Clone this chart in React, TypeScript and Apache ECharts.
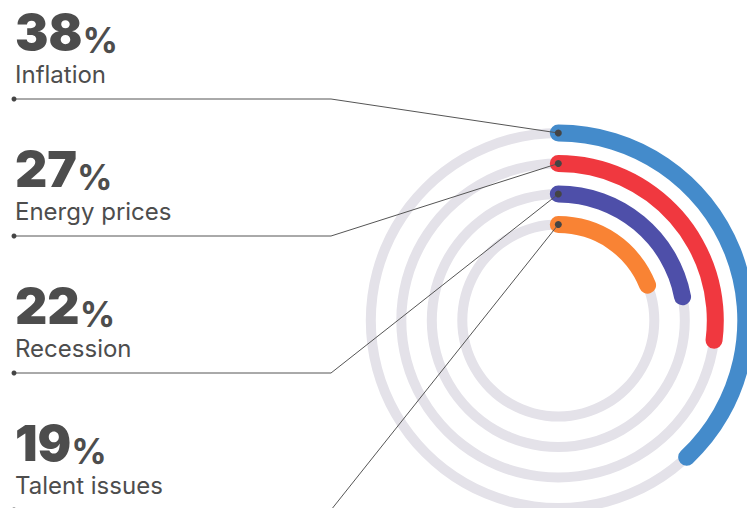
import React, { useEffect, useRef } from "react";
import * as echarts from "echarts";

// ---- data ----
const categories: string[] = ["Inflation", "Energy prices", "Recession", "Talent issues"];
const values: number[] = [38, 27, 22, 19];

// ---- styles / layout ----
const colors: string[] = ["#448bcb", "#f0383f", "#4e4fa9", "#f98334"];
const TRACK = "#e4e2e9";
const TEXT = "#4d4d4d";
const CX = 558.3;
const CY = 320.5;
const RADII: number[] = [187.5, 157, 126.5, 96]; // ring centre-line radii, outer -> inner
const BAR_W = 17;
const TRACK_W = 10;
const NUM_TOP = 13;
const LABEL_MID = 74.5;
const GROUP_STEP = 137;
const LINE_Y0 = 99;
const BEND_X = 331;

export default function App() {
  const ref = useRef<HTMLDivElement>(null);

  useEffect(() => {
    if (!ref.current) return;
    const chart = echarts.init(ref.current, undefined, { renderer: "svg" });

    const hidden = {
      pointer: { show: false },
      axisTick: { show: false },
      splitLine: { show: false },
      axisLabel: { show: false },
      title: { show: false },
      detail: { show: false },
      anchor: { show: false },
    };

    const series: any[] = [];
    categories.forEach((name, i) => {
      const r = RADII[i];
      series.push({
        type: "gauge",
        silent: true,
        z: 1,
        center: [CX, CY],
        radius: r + TRACK_W / 2,
        startAngle: 90,
        endAngle: -270,
        min: 0,
        max: 100,
        ...hidden,
        axisLine: { show: true, roundCap: false, lineStyle: { width: TRACK_W, color: [[1, TRACK]] } },
        progress: { show: false },
        data: [{ value: 0, name }],
      });
    });
    categories.forEach((name, i) => {
      const r = RADII[i];
      series.push({
        type: "gauge",
        silent: true,
        z: 3,
        center: [CX, CY],
        radius: r + BAR_W / 2,
        startAngle: 90,
        endAngle: -270,
        min: 0,
        max: 100,
        ...hidden,
        axisLine: { show: false },
        progress: { show: true, width: BAR_W, roundCap: true, itemStyle: { color: colors[i] } },
        data: [{ value: values[i], name }],
      });
    });

    const graphics: any[] = [];
    categories.forEach((name, i) => {
      const off = i * GROUP_STEP;
      const ly = LINE_Y0 + off;
      const endY = CY - RADII[i];
      graphics.push({
        type: "text",
        x: 15,
        y: NUM_TOP + off,
        z: 100,
        style: {
          text: `{n|${values[i]}}{p|%}`,
          verticalAlign: "top",
          align: "left",
          rich: {
            n: {
              fontFamily: "Inter",
              fontWeight: 900,
              fontSize: 50,
              lineHeight: 44,
              verticalAlign: "bottom",
              fill: TEXT,
            },
            p: {
              fontFamily: "Inter",
              fontWeight: 700,
              fontSize: 35,
              lineHeight: 34,
              verticalAlign: "bottom",
              fill: TEXT,
            },
          },
        },
      });
      graphics.push({
        type: "text",
        x: 15,
        y: LABEL_MID + off,
        z: 100,
        style: {
          text: name,
          fontFamily: "Inter",
          fontWeight: 400,
          fontSize: 24,
          lineHeight: 24,
          verticalAlign: "middle",
          align: "left",
          fill: TEXT,
        },
      });
      graphics.push({
        type: "polyline",
        z: 100,
        shape: { points: [[14, ly], [BEND_X, ly], [CX, endY]] },
        style: { stroke: "#555555", lineWidth: 1, fill: null },
      });
      graphics.push({
        type: "circle",
        z: 101,
        shape: { cx: 14, cy: ly, r: 2.5 },
        style: { fill: "#444444" },
      });
      graphics.push({
        type: "circle",
        z: 101,
        shape: { cx: CX, cy: endY, r: 3.5 },
        style: { fill: "#444444" },
      });
    });

    chart.setOption({
      animation: false,
      backgroundColor: "#ffffff",
      series,
      graphic: { elements: graphics },
    });

    return () => chart.dispose();
  }, []);

  return (
    <div
      ref={ref}
      style={{ position: "fixed", left: 0, top: 0, width: 747, height: 508 }}
    />
  );
}
